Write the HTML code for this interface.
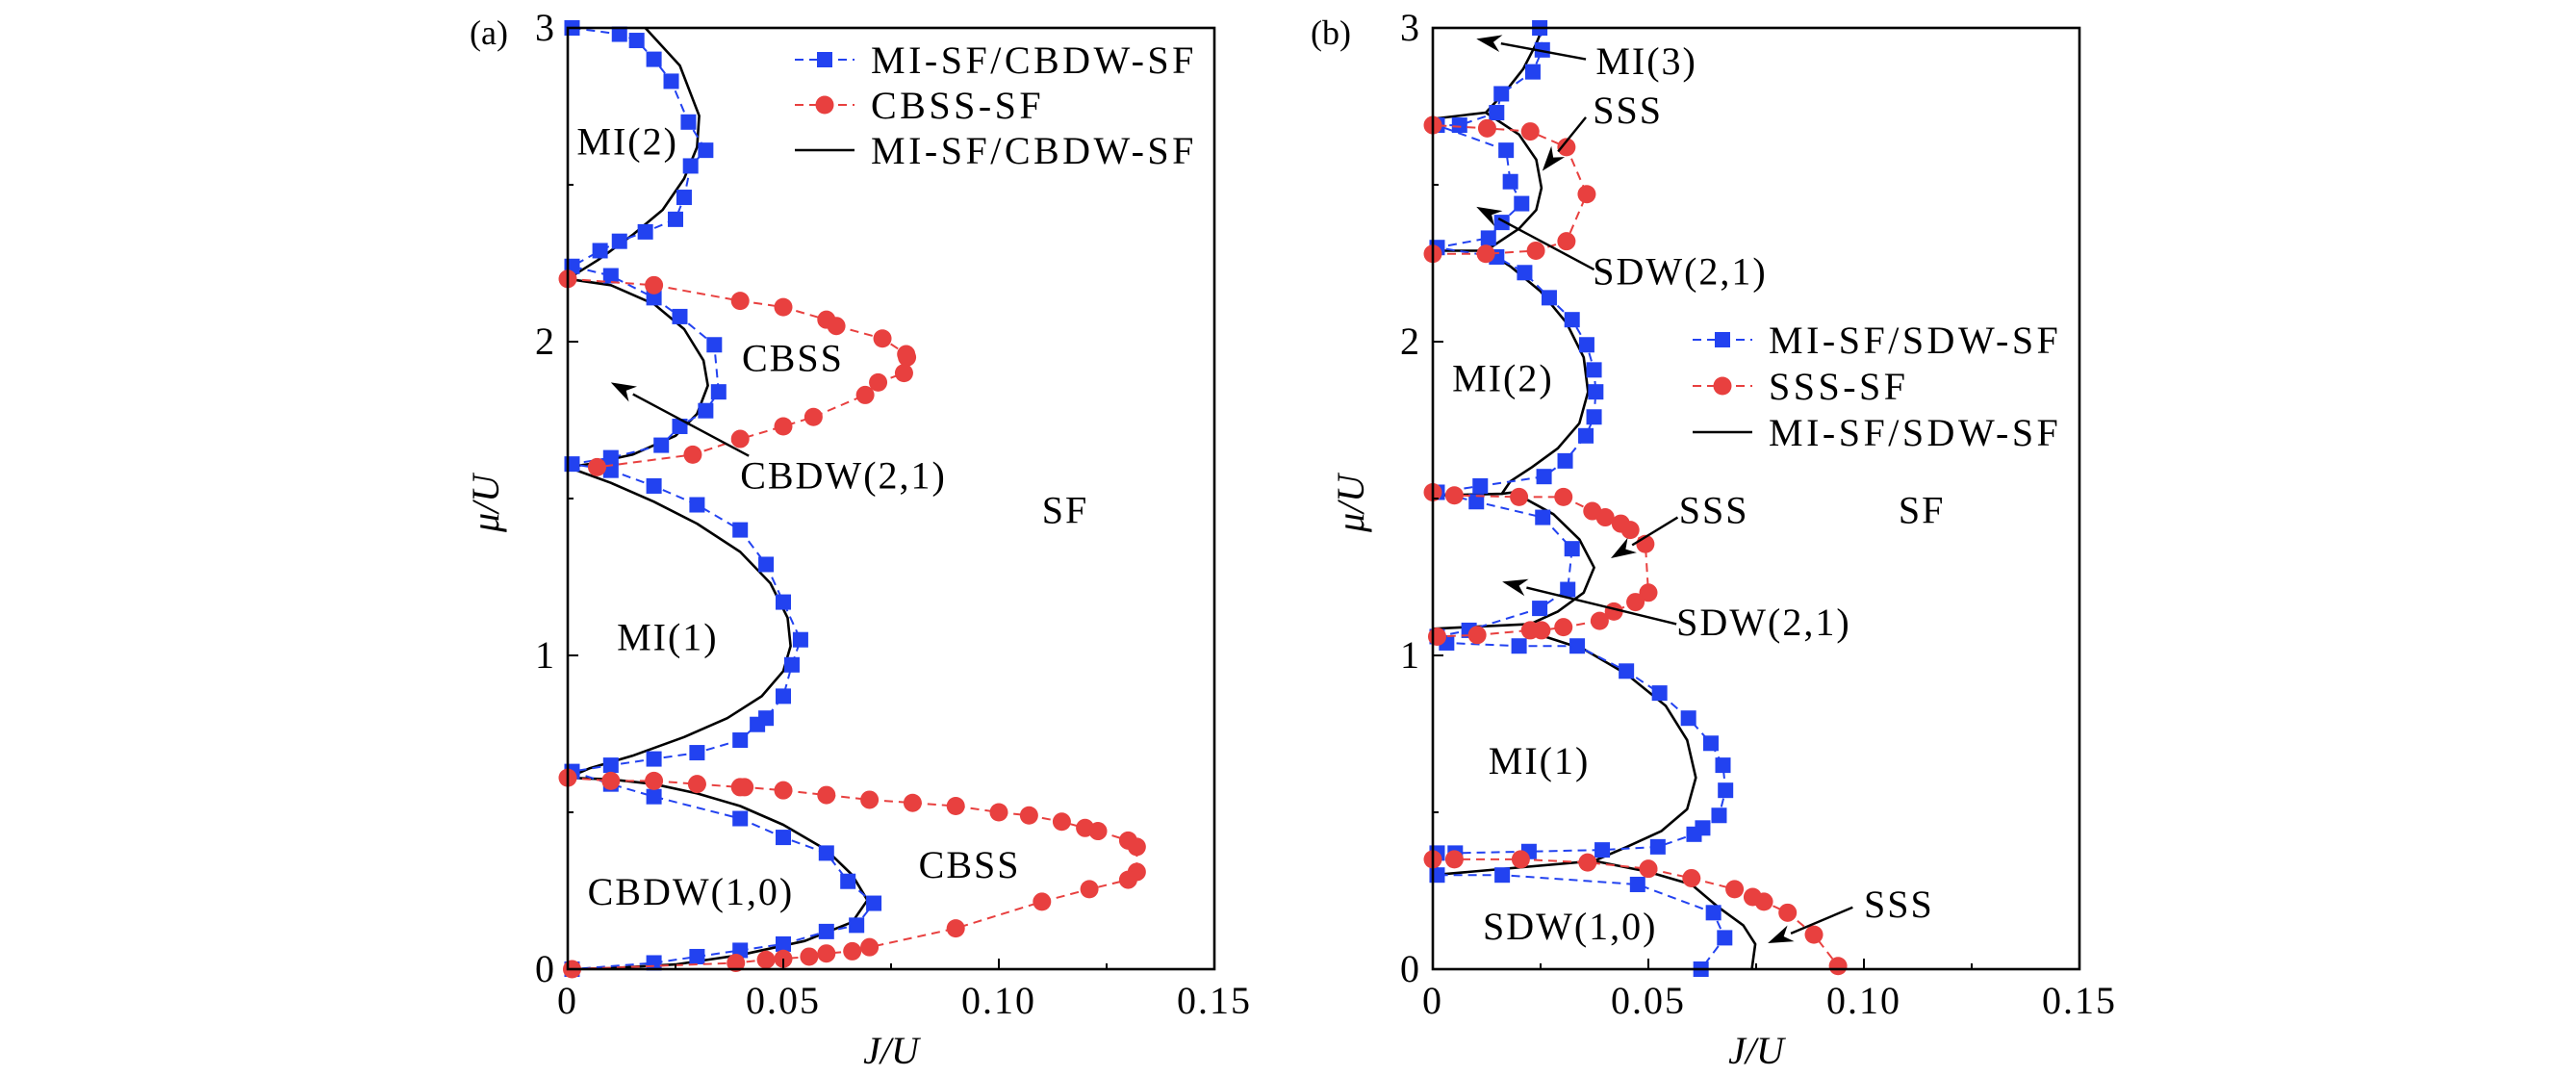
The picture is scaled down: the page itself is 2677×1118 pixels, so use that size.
<!DOCTYPE html>
<html><head><meta charset="utf-8"><style>
html,body{margin:0;padding:0;background:#fff;}
svg{display:block;}
text{font-family:"Liberation Serif",serif;fill:#000;}
</style></head><body>
<svg id="chart" width="2677" height="1118" viewBox="0 0 2677 1118" xmlns="http://www.w3.org/2000/svg"></svg>
<script>
// ---------- Panel (a) data ----------
const aBlue = [[0.001,3.0],[0.012,2.98],[0.016,2.96],[0.020,2.90],[0.024,2.83],[0.028,2.70],[0.032,2.61],[0.0285,2.56],[0.027,2.46],[0.025,2.39],[0.018,2.35],[0.012,2.32],[0.0075,2.29],[0.001,2.24],[0.010,2.21],[0.020,2.14],[0.026,2.08],[0.034,1.99],[0.035,1.84],[0.032,1.78],[0.026,1.73],[0.0217,1.67],[0.010,1.63],[0.001,1.61],[0.010,1.59],[0.020,1.54],[0.030,1.48],[0.040,1.40],[0.046,1.29],[0.050,1.17],[0.054,1.05],[0.052,0.97],[0.050,0.87],[0.046,0.80],[0.044,0.78],[0.040,0.73],[0.030,0.69],[0.020,0.67],[0.010,0.65],[0.001,0.63],[0.010,0.59],[0.020,0.55],[0.040,0.48],[0.050,0.42],[0.060,0.37],[0.065,0.28],[0.071,0.21],[0.067,0.14],[0.060,0.12],[0.050,0.08],[0.040,0.06],[0.030,0.04],[0.020,0.02],[0.001,0.0]];
const aRedUpper = [[0.0,2.20],[0.020,2.18],[0.040,2.13],[0.050,2.11],[0.060,2.07],[0.0623,2.05],[0.073,2.01],[0.0785,1.96],[0.0787,1.95],[0.078,1.90],[0.072,1.87],[0.069,1.83],[0.057,1.76],[0.050,1.73],[0.040,1.69],[0.029,1.64],[0.0068,1.60]];
const aRedLower = [[0.0,0.61],[0.010,0.60],[0.020,0.60],[0.030,0.59],[0.040,0.58],[0.041,0.58],[0.050,0.57],[0.060,0.555],[0.070,0.54],[0.080,0.53],[0.090,0.52],[0.100,0.50],[0.107,0.49],[0.1146,0.47],[0.120,0.45],[0.123,0.44],[0.130,0.41],[0.132,0.39],[0.132,0.31],[0.130,0.285],[0.121,0.255],[0.110,0.215],[0.090,0.13],[0.070,0.07],[0.066,0.057],[0.060,0.05],[0.056,0.04],[0.050,0.033],[0.046,0.03],[0.039,0.02],[0.001,0.0]];
const aLine1 = [[0.018,3.0],[0.026,2.88],[0.0305,2.72],[0.030,2.62],[0.027,2.52],[0.022,2.42],[0.015,2.34],[0.007,2.26],[0,2.20]];
const aLine2 = [[0,2.20],[0.010,2.18],[0.020,2.12],[0.027,2.04],[0.0315,1.94],[0.0325,1.86],[0.030,1.77],[0.025,1.70],[0.015,1.64],[0.005,1.61],[0,1.60]];
const aLine3 = [[0,1.60],[0.010,1.55],[0.020,1.49],[0.030,1.42],[0.040,1.33],[0.047,1.23],[0.051,1.12],[0.0517,1.03],[0.050,0.95],[0.045,0.87],[0.037,0.80],[0.027,0.74],[0.015,0.68],[0.005,0.64],[0,0.61]];
const aLine4 = [[0,0.61],[0.010,0.605],[0.020,0.59],[0.030,0.56],[0.040,0.52],[0.050,0.46],[0.060,0.38],[0.066,0.30],[0.0695,0.22],[0.066,0.15],[0.055,0.09],[0.040,0.045],[0.025,0.015],[0.010,0.003],[0,0]];
// ---------- Panel (b) data ----------
const bBlue = [[0.0248,3.0],[0.0254,2.93],[0.0232,2.86],[0.0159,2.79],[0.0148,2.73],[0.0062,2.69],[0.001,2.69],[0.017,2.61],[0.018,2.51],[0.0206,2.44],[0.016,2.38],[0.0129,2.33],[0.001,2.30],[0.0148,2.27],[0.0213,2.22],[0.027,2.14],[0.0323,2.07],[0.0357,1.99],[0.0374,1.91],[0.0378,1.84],[0.0374,1.76],[0.0355,1.70],[0.0307,1.62],[0.0258,1.57],[0.011,1.54],[0.001,1.52],[0.0101,1.49],[0.0255,1.44],[0.0323,1.34],[0.0313,1.21],[0.0248,1.15],[0.0084,1.08],[0.001,1.06],[0.0032,1.04],[0.020,1.03],[0.0335,1.03],[0.0449,0.95],[0.0526,0.88],[0.0593,0.80],[0.0645,0.72],[0.0673,0.65],[0.0679,0.57],[0.0664,0.49],[0.0626,0.45],[0.0606,0.43],[0.0522,0.39],[0.0393,0.38],[0.0223,0.375],[0.0052,0.37],[0.001,0.37],[0.001,0.30],[0.0161,0.30],[0.0475,0.27],[0.0651,0.18],[0.0677,0.10],[0.0622,0.0]];
const bRedTop = [[0,2.28],[0.0123,2.28],[0.0239,2.29],[0.031,2.32],[0.0357,2.47],[0.031,2.62],[0.0226,2.67],[0.0126,2.68],[0,2.69]];
const bRedMid = [[0,1.52],[0.005,1.51],[0.020,1.505],[0.0303,1.505],[0.037,1.46],[0.040,1.44],[0.0436,1.42],[0.0458,1.40],[0.0493,1.355],[0.050,1.20],[0.047,1.17],[0.042,1.14],[0.0387,1.11],[0.0303,1.09],[0.0252,1.08],[0.0226,1.08],[0.0103,1.065],[0.001,1.06]];
const bRedLow = [[0,0.35],[0.005,0.35],[0.0204,0.35],[0.0359,0.34],[0.050,0.32],[0.060,0.29],[0.070,0.255],[0.0742,0.23],[0.0768,0.215],[0.0823,0.18],[0.0884,0.11],[0.094,0.01]];
const bLine1 = [[0,2.71],[0.0123,2.73],[0.017,2.80],[0.021,2.87],[0.024,2.95],[0.0255,3.0]];
const bLine2 = [[0.0123,2.73],[0.020,2.66],[0.024,2.58],[0.0252,2.49],[0.024,2.42],[0.020,2.36],[0.0123,2.29]];
const bLine3 = [[0,2.29],[0.0123,2.29],[0.018,2.24],[0.025,2.16],[0.031,2.06],[0.035,1.95],[0.036,1.84],[0.034,1.74],[0.029,1.66],[0.023,1.60],[0.018,1.555],[0.016,1.515],[0,1.51]];
const bLine4 = [[0.016,1.515],[0.0187,1.52],[0.028,1.45],[0.034,1.37],[0.0374,1.28],[0.035,1.20],[0.029,1.14],[0.0226,1.10],[0,1.085]];
const bLine5 = [[0.0226,1.10],[0.0226,1.075],[0.035,1.02],[0.045,0.94],[0.054,0.84],[0.059,0.73],[0.061,0.61],[0.059,0.51],[0.053,0.44],[0.045,0.39],[0.0374,0.345],[0,0.30]];
const bLine6 = [[0.0374,0.345],[0.050,0.31],[0.060,0.27],[0.066,0.20],[0.072,0.14],[0.0748,0.08],[0.074,0.0]];
// ---------- Axis ticks ----------
const xTicks = [0, 0.05, 0.10, 0.15];
const xTickLabels = ["0", "0.05", "0.10", "0.15"];
const xMinor = [0.025, 0.075, 0.125];
const yTicks = [0, 1, 2, 3];
const yTickLabels = ["0", "1", "2", "3"];
const yMinor = [0.5, 1.5, 2.5];

const NS = "http://www.w3.org/2000/svg";
const svg = document.getElementById('chart');
const BLUE = "#2242f0", RED = "#e8403f";

function mk(tag, attrs, parent){
  const e = document.createElementNS(NS, tag);
  for (const k in attrs) e.setAttribute(k, attrs[k]);
  (parent||svg).appendChild(e);
  return e;
}

function panel(opts){
  const x0 = opts.left, x1 = opts.left + 672, y0 = 1007, y1 = 29;
  const sx = v => x0 + v / 0.15 * (x1 - x0);
  const sy = v => y0 - v / 3 * (y0 - y1);
  const g = mk('g', {});
  
  
  const pts = arr => arr.map(p => sx(p[0]).toFixed(1) + ',' + sy(p[1]).toFixed(1)).join(' ');

  // black lines
  opts.lines.forEach((ln, i) => {
    const e = mk('polyline', {points: pts(ln), fill: 'none', stroke: '#000', 'stroke-width': 2.6, 'stroke-linejoin': 'round'}, g);
    
    
  });
  // blue series
  const bl = mk('polyline', {points: pts(opts.blue), fill: 'none', stroke: BLUE, 'stroke-width': 2, 'stroke-dasharray': '9,6'}, g);
  
  
  opts.blue.forEach(p => {
    const r = mk('rect', {x: sx(p[0]) - 8, y: sy(p[1]) - 8, width: 16, height: 16, fill: BLUE}, g);
    
    
  });
  // red series
  opts.reds.forEach((rs, i) => {
    const rl = mk('polyline', {points: pts(rs), fill: 'none', stroke: RED, 'stroke-width': 2, 'stroke-dasharray': '9,6'}, g);
    
    
    rs.forEach(p => {
      const c = mk('circle', {cx: sx(p[0]), cy: sy(p[1]), r: 9.5, fill: RED}, g);
      
      
    });
  });
  // white mask outside frame (clip)
  const frame = mk('rect', {x: x0, y: y1, width: x1 - x0, height: y0 - y1, fill: 'none', stroke: '#000', 'stroke-width': 2.6}, g);
  
  
  // ticks
  xTicks.forEach((t, i) => {
    const l = mk('line', {x1: sx(t), x2: sx(t), y1: y0, y2: y0 - 11, stroke: '#000', 'stroke-width': 2}, g);
    
    
    const tx = mk('text', {x: sx(t), y: 1053, 'font-size': 40, 'text-anchor': 'middle', 'letter-spacing': 2}, g);
    tx.textContent = xTickLabels[i];
    
    
  });
  xMinor.forEach(t => {
    const l = mk('line', {x1: sx(t), x2: sx(t), y1: y0, y2: y0 - 6, stroke: '#000', 'stroke-width': 2}, g);
    
    
  });
  yTicks.forEach((t, i) => {
    const l = mk('line', {x1: x0, x2: x0 + 11, y1: sy(t), y2: sy(t), stroke: '#000', 'stroke-width': 2}, g);
    
    
    const tx = mk('text', {x: x0 - 14, y: sy(t) + 13, 'font-size': 40, 'text-anchor': 'end'}, g);
    tx.textContent = yTickLabels[i];
    
    
  });
  yMinor.forEach(t => {
    const l = mk('line', {x1: x0, x2: x0 + 6, y1: sy(t), y2: sy(t), stroke: '#000', 'stroke-width': 2}, g);
    
    
  });
  // axis titles
  const xt = mk('text', {x: (x0 + x1) / 2, y: 1105, 'font-size': 40, 'font-style': 'italic', 'text-anchor': 'middle'}, g);
  xt.textContent = 'J/U';
  
  
  const yt = mk('text', {x: 0, y: 0, 'font-size': 40, 'font-style': 'italic', 'text-anchor': 'middle', transform: 'translate(' + (x0 - 72) + ',523) rotate(-90)'}, g);
  yt.textContent = 'μ/U';
  
  
  const pl = mk('text', {x: opts.tagX, y: 46, 'font-size': 36}, g);
  pl.textContent = opts.tag;
  
  
  // region labels
  opts.labels.forEach(lb => {
    const t = mk('text', {x: sx(lb[1]), y: sy(lb[2]) + 14, 'font-size': 40, 'letter-spacing': 2}, g);
    t.textContent = lb[0];
    
    
  });
  // arrows
  opts.arrows.forEach(a => {
    const X1 = sx(a[0]), Y1 = sy(a[1]), X2 = sx(a[2]), Y2 = sy(a[3]);
    const ang = Math.atan2(Y2 - Y1, X2 - X1), L = 26, W = 9;
    const bx = X2 - L * Math.cos(ang), by = Y2 - L * Math.sin(ang);
    const ln = mk('line', {x1: X1, y1: Y1, x2: bx, y2: by, stroke: '#000', 'stroke-width': 2.4}, g);
    
    
    const p = [X2 + ',' + Y2,
      (bx - W * Math.sin(ang)) + ',' + (by + W * Math.cos(ang)),
      (bx + 8 * Math.cos(ang)) + ',' + (by + 8 * Math.sin(ang)),
      (bx + W * Math.sin(ang)) + ',' + (by - W * Math.cos(ang))].join(' ');
    const hd = mk('polygon', {points: p, fill: '#000'}, g);
    
    
  });
  // legend
  const lg = mk('g', {}, g);
  
  
  opts.legend.forEach((en, i) => {
    const y = opts.legY + i * opts.legDy, lx0 = opts.legX, lx1 = opts.legX + 62;
    const eg = mk('g', {}, lg);
    
    
    if (en.kind === 'line') {
      mk('line', {x1: lx0, x2: lx1, y1: y, y2: y, stroke: '#000', 'stroke-width': 2.6}, eg);
    } else {
      const col = en.kind === 'blue' ? BLUE : RED;
      mk('line', {x1: lx0, x2: lx1, y1: y, y2: y, stroke: col, 'stroke-width': 2, 'stroke-dasharray': '9,6'}, eg);
      if (en.kind === 'blue') mk('rect', {x: (lx0 + lx1) / 2 - 8, y: y - 8, width: 16, height: 16, fill: col}, eg);
      else mk('circle', {cx: (lx0 + lx1) / 2, cy: y, r: 9.5, fill: col}, eg);
    }
    const t = mk('text', {x: lx1 + 17, y: y + 14, 'font-size': 40, 'letter-spacing': 3.5}, eg);
    t.textContent = en.text;
  });
}

panel({
  id: 'panel-a', left: 590, tag: '(a)', tagX: 488,
  blue: aBlue, reds: [aRedUpper, aRedLower], lines: [aLine1, aLine2, aLine3, aLine4],
  labels: [['MI(2)', 0.0021, 2.64], ['CBSS', 0.0404, 1.95], ['CBDW(2,1)', 0.040, 1.575], ['SF', 0.110, 1.465], ['MI(1)', 0.0114, 1.06], ['CBSS', 0.0814, 0.335], ['CBDW(1,0)', 0.0046, 0.248]],
  arrows: [[0.042, 1.636, 0.010, 1.87]],
  legX: 826, legY: 62, legDy: 47,
  legend: [{kind: 'blue', text: 'MI-SF/CBDW-SF'}, {kind: 'red', text: 'CBSS-SF'}, {kind: 'line', text: 'MI-SF/CBDW-SF'}]
});
panel({
  id: 'panel-b', left: 1489, tag: '(b)', tagX: 1362,
  blue: bBlue, reds: [bRedTop, bRedMid, bRedLow], lines: [bLine1, bLine2, bLine3, bLine4, bLine5, bLine6],
  labels: [['MI(3)', 0.0378, 2.895], ['SSS', 0.0371, 2.74], ['SDW(2,1)', 0.0371, 2.225], ['MI(2)', 0.0045, 1.885], ['SSS', 0.0571, 1.465], ['SF', 0.108, 1.465], ['SDW(2,1)', 0.0565, 1.107], ['MI(1)', 0.0129, 0.665], ['SSS', 0.100, 0.208], ['SDW(1,0)', 0.0116, 0.138]],
  arrows: [[0.0355, 2.90, 0.0101, 2.965], [0.0355, 2.715, 0.0254, 2.544], [0.0374, 2.23, 0.0101, 2.43], [0.0568, 1.44, 0.0413, 1.31], [0.0565, 1.10, 0.0161, 1.235], [0.0974, 0.197, 0.0777, 0.083]],
  legX: 1759, legY: 353, legDy: 48,
  legend: [{kind: 'blue', text: 'MI-SF/SDW-SF'}, {kind: 'red', text: 'SSS-SF'}, {kind: 'line', text: 'MI-SF/SDW-SF'}]
});
</script>
</body></html>
